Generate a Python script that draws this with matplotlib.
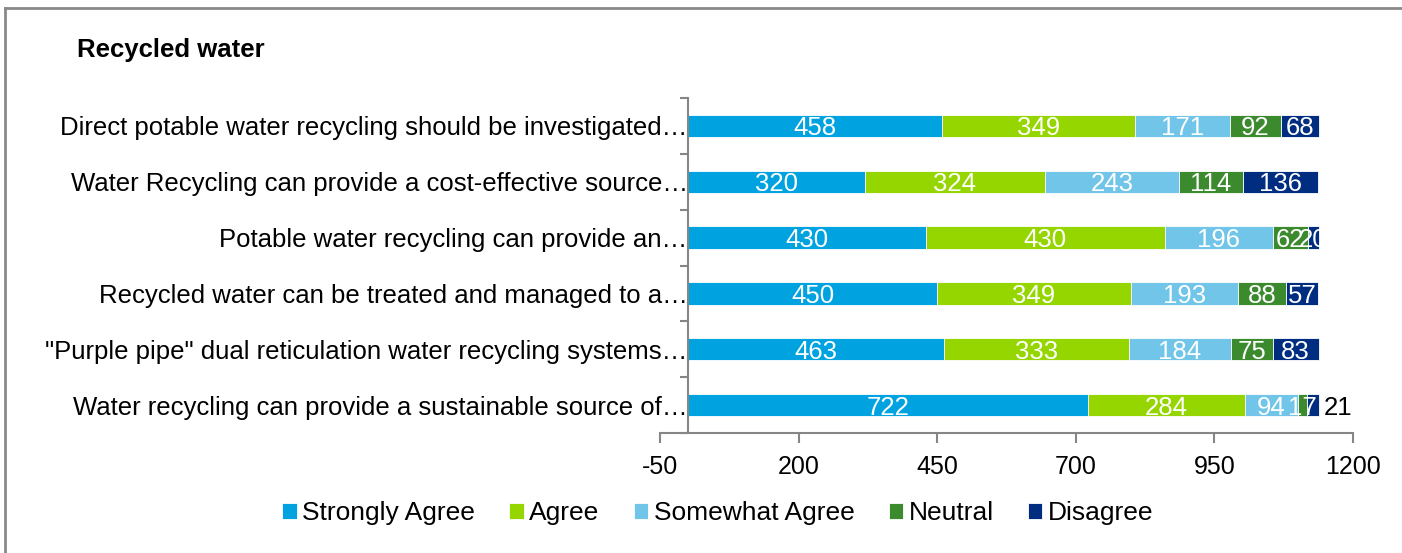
import matplotlib

matplotlib.use("Agg")
import matplotlib.pyplot as plt
import numpy as np
from matplotlib.lines import Line2D

plt.rcParams["font.family"] = ["Liberation Sans", "DejaVu Sans"]

# data, listed top row first
categories = [
    "Direct potable water recycling should be investigated…",
    "Water Recycling can provide a cost-effective source…",
    "Potable water recycling can provide an…",
    "Recycled water can be treated and managed to a…",
    "\"Purple pipe\" dual reticulation water recycling systems…",
    "Water recycling can provide a sustainable source of…",
]
series = ["Strongly Agree", "Agree", "Somewhat Agree", "Neutral", "Disagree"]
strongly_agree = [458, 320, 430, 450, 463, 722]
agree = [349, 324, 430, 349, 333, 284]
somewhat_agree = [171, 243, 196, 193, 184, 94]
neutral = [92, 114, 62, 88, 75, 17]
disagree = [68, 136, 20, 57, 83, 21]
x_ticks = [-50, 200, 450, 700, 950, 1200]

colors = ["#00A3E0", "#95D600", "#71C5E8", "#3C8A2E", "#002D80"]
values = [strongly_agree, agree, somewhat_agree, neutral, disagree]

FS = 18.5

fig = plt.figure(figsize=(14.02, 5.53), dpi=100)
ax = fig.add_axes([660 / 1402, 1 - 433 / 553, 693 / 1402, 335 / 553])

y = np.arange(len(categories))[::-1]
left = np.zeros(len(categories))
for name, vals, col in zip(series, values, colors):
    vals = np.array(vals, dtype=float)
    ax.barh(y, vals, left=left, height=0.4, color=col,
            edgecolor="white", linewidth=0.6, label=name)
    for yi, l, v in zip(y, left, vals):
        if name == "Disagree" and yi == 0:
            # label sits outside the bar end
            ax.annotate(f"{int(v)}", xy=(l + v, yi), xytext=(4, 0),
                        textcoords="offset points", ha="left",
                        va="center_baseline", color="black", fontsize=FS)
        else:
            ax.text(l + v / 2, yi, f"{int(v)}", ha="center",
                    va="center_baseline", color="white", fontsize=FS)
    left += vals

ax.set_xlim(-50, 1200)
ax.set_ylim(-0.5, len(categories) - 0.5)
ax.set_xticks(x_ticks)
ax.set_xticklabels([str(t) for t in x_ticks])
ax.set_yticks(y)
ax.set_yticklabels(categories)
ax.tick_params(axis="y", which="major", length=0, pad=0, labelsize=FS)
ax.set_yticks(np.arange(-0.5, len(categories)), minor=True)
ax.tick_params(axis="y", which="minor", length=6, width=1.5, color="#868686",
               direction="out")
ax.tick_params(axis="x", length=7, width=1.5, color="#868686", pad=9,
               labelsize=18)

for s in ["top", "right"]:
    ax.spines[s].set_visible(False)
ax.spines["left"].set_position(("data", 0))
for s in ["left", "bottom"]:
    ax.spines[s].set_color("#868686")
    ax.spines[s].set_linewidth(1.5)

fig.text(77 / 1402, 1 - 50 / 553, "Recycled water", fontsize=18.5,
         fontweight="bold", va="center", ha="left")

fig.legend(loc="center", bbox_to_anchor=(0.512, 1 - 513 / 553), ncol=5,
           frameon=False, fontsize=19, handlelength=0.55, handleheight=0.55,
           handletextpad=0.2, columnspacing=1.3)

# outer chart border (left and top edges visible)
fig.add_artist(Line2D([5 / 1402, 5 / 1402], [0, 1 - 8 / 553],
                      transform=fig.transFigure, color="#898989", lw=2))
fig.add_artist(Line2D([5 / 1402, 1], [1 - 8 / 553, 1 - 8 / 553],
                      transform=fig.transFigure, color="#898989", lw=2))

fig.savefig("out.png", dpi=100, facecolor="white")
